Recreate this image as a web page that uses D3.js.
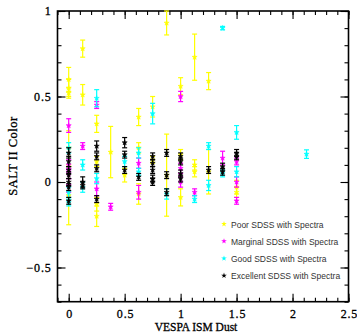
<!DOCTYPE html>
<html>
<head>
<meta charset="utf-8">
<script src="https://cdn.jsdelivr.net/npm/d3@7"></script>
<style>
	body { margin: 0; background: #fff; }
	.tick text { font-family: "Liberation Serif", serif; font-size: 12px; fill: #000; stroke: #000; stroke-width: 0.3px; letter-spacing: 0.8px; }
	.legtext { font-family: "Liberation Sans", Arial, sans-serif; font-size: 8.5px; fill: #333; }
	.axlabel { font-family: "Liberation Serif", serif; fill: #000; stroke: #000; stroke-width: 0.3px; }
</style>
</head>
<body>
<div id="chart"></div>
<script>

// each point is [VESPA dust, SALT II colour, colour error]
var poor = [
	[0, 0.60, 0.07], [0, 0.55, 0.05], [0, 0.52, 0.03], [0, 0.20, 0.10], [0, -0.08, 0.17],
	[0.125, 0.78, 0.05], [0.125, 0.51, 0.06],
	[0.25, 0.34, 0.05], [0.25, 0.12, 0.03], [0.25, -0.13, 0.04], [0.25, -0.20, 0.06],
	[0.375, 0.175, 0.15],
	[0.5, 0.04, 0.04],
	[0.625, 0.38, 0.05], [0.625, 0.20, 0.03], [0.625, -0.07, 0.06],
	[0.75, 0.44, 0.06], [0.75, 0.13, 0.02],
	[0.875, 0.93, 0.07], [0.875, 0.04, 0.24],
	[1.0, 0.56, 0.05], [1.0, 0.16, 0.03], [1.0, -0.09, 0.05],
	[1.125, 0.73, 0.135], [1.125, 0.10, 0.03], [1.125, 0.06, 0.03],
	[1.25, 0.59, 0.05], [1.25, 0.06, 0.13],
	[1.5, -0.03, 0.04], [1.5, -0.06, 0.03]
];
var marginal = [
	[0, 0.33, 0.04], [0, 0.10, 0.03], [0, 0.05, 0.03], [0, -0.02, 0.04],
	[0.125, 0.21, 0.02],
	[0.25, 0.45, 0.02], [0.25, -0.04, 0.04],
	[0.375, -0.145, 0.02],
	[0.625, 0.11, 0.03], [0.625, -0.06, 0.04],
	[1.0, 0.50, 0.03], [1.0, 0.08, 0.03], [1.0, 0.0, 0.03],
	[1.125, -0.06, 0.02],
	[1.375, 0.14, 0.04],
	[1.5, 0.12, 0.02], [1.5, 0.0, 0.03], [1.5, -0.11, 0.02]
];
var good = [
	[0, 0.20, 0.03], [0, -0.06, 0.03], [0, -0.12, 0.02],
	[0.125, 0.10, 0.03], [0.125, -0.03, 0.03],
	[0.25, 0.49, 0.05], [0.25, 0.02, 0.03],
	[0.5, 0.12, 0.03],
	[0.625, 0.17, 0.03], [0.625, 0.06, 0.02],
	[0.75, 0.40, 0.06],
	[0.875, -0.07, 0.03],
	[1.125, -0.10, 0.02],
	[1.25, 0.21, 0.02], [1.25, -0.02, 0.03],
	[1.375, 0.90, 0.01], [1.375, 0.05, 0.02],
	[1.5, 0.29, 0.04], [1.5, 0.06, 0.03],
	[2.125, 0.163, 0.025]
];
var excellent = [
	[0, 0.17, 0.03], [0, 0.12, 0.03], [0, 0.07, 0.02], [0, 0.04, 0.02], [0, 0.0, 0.02], [0, -0.03, 0.02], [0, -0.11, 0.02],
	[0.125, 0.0, 0.03], [0.125, -0.02, 0.02],
	[0.25, 0.21, 0.03], [0.25, 0.15, 0.02], [0.25, 0.08, 0.02], [0.25, -0.10, 0.02],
	[0.5, 0.23, 0.03], [0.5, 0.16, 0.02], [0.5, 0.07, 0.02],
	[0.625, 0.03, 0.02],
	[0.75, 0.15, 0.02], [0.75, 0.11, 0.02], [0.75, 0.07, 0.02], [0.75, 0.02, 0.02], [0.75, 0.0, 0.02],
	[0.875, 0.17, 0.02], [0.875, 0.04, 0.02], [0.875, -0.06, 0.02],
	[1.0, 0.15, 0.02], [1.0, 0.12, 0.02], [1.0, 0.05, 0.02], [1.0, 0.02, 0.02],
	[1.25, 0.07, 0.02],
	[1.375, 0.09, 0.02], [1.375, 0.06, 0.02],
	[1.5, 0.17, 0.02], [1.5, 0.15, 0.02]
];

var seriesNames = ["Poor SDSS with Spectra", "Marginal SDSS with Spectra", "Good SDSS with Spectra", "Excellent SDSS with Spectra"];
var seriesColors = ["#ffff00", "#ff00ff", "#00ffff", "#000000"];
var seriesData = [poor, marginal, good, excellent];

var xMajor = [0, 0.5, 1, 1.5, 2, 2.5];
var yMajor = [-0.5, 0, 0.5, 1];

// plot box (window.top is read-only, so not "top")
var svgW = 357, svgH = 333;
var boxL = 57.5, boxR = 348.5, boxT = 11, boxB = 301.7;

var xScale = d3.scaleLinear().domain([-0.1, 2.5]).range([boxL, boxR]);
var yScale = d3.scaleLinear().domain([-0.7, 1]).range([boxB, boxT]);

var svg = d3.select("#chart").append("svg")
	.attr("width", svgW)
	.attr("height", svgH);

function minorTicks(lo, hi) {
	var t = [];
	for (var i = Math.round(lo * 10); i <= Math.round(hi * 10); i++) t.push(i / 10);
	return t;
}

function addAxis(axis, tx, ty, labels) {
	var g = svg.append("g")
		.attr("transform", "translate(" + tx + "," + ty + ")")
		.call(axis);
	g.select(".domain").remove();
	g.selectAll(".tick line").attr("stroke", "#000").attr("stroke-width", 1.1);
	if (!labels) g.selectAll(".tick text").remove();
	return g;
}

var fmt = function (d) { return d3.format("")(d); };

// minor ticks, all four sides
addAxis(d3.axisBottom(xScale).tickValues(minorTicks(-0.1, 2.5)).tickSize(-4), 0, boxB, false);
addAxis(d3.axisTop(xScale).tickValues(minorTicks(-0.1, 2.5)).tickSize(-4), 0, boxT, false);
addAxis(d3.axisLeft(yScale).tickValues(minorTicks(-0.7, 1)).tickSize(-4), boxL, 0, false);
addAxis(d3.axisRight(yScale).tickValues(minorTicks(-0.7, 1)).tickSize(-4), boxR, 0, false);

// major ticks
var xAx = addAxis(d3.axisBottom(xScale).tickValues(xMajor).tickSize(-8).tickPadding(8).tickFormat(fmt), 0, boxB, true);
xAx.selectAll(".tick text").attr("dx", "0.4px");
addAxis(d3.axisTop(xScale).tickValues(xMajor).tickSize(-8), 0, boxT, false);
addAxis(d3.axisLeft(yScale).tickValues(yMajor).tickSize(-8).tickPadding(6).tickFormat(fmt), boxL, 0, true);
addAxis(d3.axisRight(yScale).tickValues(yMajor).tickSize(-8), boxR, 0, false);

svg.append("rect")
	.attr("x", boxL)
	.attr("y", boxT)
	.attr("width", boxR - boxL)
	.attr("height", boxB - boxT)
	.attr("fill", "none")
	.attr("stroke", "#000")
	.attr("stroke-width", 1.6);

// error bars + star markers
var star = d3.symbol().type(d3.symbolStar).size(8);

seriesData.forEach(function (data, i) {
	var col = seriesColors[i];
	var g = svg.append("g");
	var pts = g.selectAll("g.pt")
		.data(data).enter().append("g")
		.attr("class", "pt");
	pts.append("line")
		.attr("x1", function (d) { return xScale(d[0]); })
		.attr("x2", function (d) { return xScale(d[0]); })
		.attr("y1", function (d) { return yScale(d[1] - d[2]); })
		.attr("y2", function (d) { return yScale(d[1] + d[2]); })
		.attr("stroke", col).attr("stroke-width", 1.2);
	[-1, 1].forEach(function (s) {
		pts.append("line")
			.attr("x1", function (d) { return xScale(d[0]) - 2.5; })
			.attr("x2", function (d) { return xScale(d[0]) + 2.5; })
			.attr("y1", function (d) { return yScale(d[1] + s * d[2]); })
			.attr("y2", function (d) { return yScale(d[1] + s * d[2]); })
			.attr("stroke", col).attr("stroke-width", 1.2);
	});
	pts.append("path")
		.attr("d", star)
		.attr("transform", function (d) {
			return "translate(" + xScale(d[0]) + "," + yScale(d[1]) + ")";
		})
		.attr("fill", col)
		.attr("stroke", col)
		.attr("stroke-width", 0.6);
});

// legend
var legend = svg.append("g");
seriesNames.forEach(function (name, i) {
	var ly = 224.5 + i * 17.2;
	legend.append("path")
		.attr("d", d3.symbol().type(d3.symbolStar).size(10))
		.attr("transform", "translate(224," + (ly - 0.5) + ")")
		.attr("fill", seriesColors[i]);
	legend.append("text")
		.attr("class", "legtext")
		.attr("x", 231)
		.attr("y", ly + 3)
		.text(name);
});

// axis titles
svg.append("text")
	.attr("class", "axlabel")
	.attr("text-anchor", "middle")
	.attr("x", 196)
	.attr("y", 331)
	.style("font-size", "11.5px")
	.text("VESPA ISM Dust");

svg.append("text")
	.attr("class", "axlabel")
	.attr("text-anchor", "middle")
	.attr("transform", "translate(17,156) rotate(-90)")
	.style("font-size", "12.5px")
	.style("letter-spacing", "0.5px")
	.text("SALT II Color");

</script>
</body>
</html>
